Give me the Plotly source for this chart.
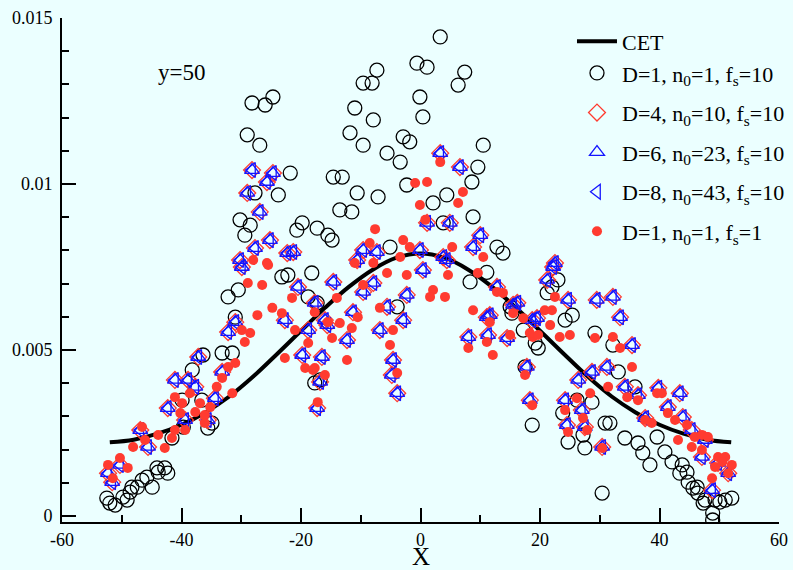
import plotly.graph_objects as go

# ---------------- data ----------------
cet_x = [-52, -48, -44, -40, -36, -32, -28, -24, -20, -16, -12, -8, -4, 0,
         4, 8, 12, 16, 20, 24, 28, 32, 36, 40, 44, 48, 52]
cet_y = [0.00222, 0.00230, 0.00248, 0.00275, 0.00312, 0.00360, 0.00420, 0.00488,
         0.00558, 0.00627, 0.00690, 0.00742, 0.00778, 0.00791,
         0.00778, 0.00742, 0.00690, 0.00627, 0.00558, 0.00488, 0.00420, 0.00360,
         0.00312, 0.00275, 0.00248, 0.00230, 0.00222]

# D=1, n0=1, fs=10 (open circles)
c_x = [-52.5, -51.1, -49.8, -48.6, -47.4, -45.8, -44.9, -44.1, -42.8, -42.3, -49.1, -52.0, -48.3, -46.6, -43.9,
       -41.6, -39.7, -35.6, -34.9, -39.9, -36.6, -38.2, -36.4, -33.2, -31.5, -31.0, -32.2, -30.5, -23.2, -22.2,
       -18.2, -17.7, -18.8,
       -28.2, -26.0, -24.7, -29.0, -26.9, -21.8, -23.8, -27.7, -30.2, -29.4, -28.5, -20.7, -19.8, -17.3, -15.5,
       -14.8, -14.6, -13.1, -10.6, -7.1, -13.5, -11.5, -11.8, -9.6, -7.9, -11.0, -9.6, -8.1, -7.3, -2.9, -1.8,
       -5.6, -3.4, -2.3, -5.1, -0.6, -0.1, 0.4, 3.3, 1.1, 7.4, 6.3, 4.4, 2.1, 10.5, 9.6, 8.6, 8.8, 3.8, 12.8, 13.8,
       21.2, 22.0, 23.0, 24.2, 25.4, 17.5, 19.2, 19.7, 18.7, 23.8, 24.7, 27.5, 27.2, 28.7, 29.2, 32.2, 33.1, 30.9,
       31.7, 34.2, 36.4, 37.2, 38.4, 40.9, 42.1, 43.8, 43.4, 44.8, 45.6, 46.4, 47.6, 49.3, 51.0, 52.1, 30.4, 35.9,
       39.6, 48.9, 48.9, 50.1, 26.2, 44.6, 46.3, 47.3,
       11.1, 15.0, 15.3, -3.9, 8.3, 17.2, -16.8, -17.3]
c_y = [0.00054, 0.00033, 0.00057, 0.00072, 0.00087, 0.00117, 0.00087, 0.00145, 0.00145, 0.00129, 0.00048, 0.00039, 0.00087, 0.00108, 0.00132,
       0.00235, 0.00268, 0.00265, 0.00280, 0.00349, 0.00349, 0.00440, 0.00485, 0.00491, 0.00491, 0.00599, 0.00660, 0.00681, 0.00720, 0.00726,
       0.00732, 0.00401, 0.00660,
       0.01244, 0.01238, 0.01262, 0.01148, 0.01117, 0.01033, 0.00967, 0.00973, 0.00892, 0.00846, 0.00876, 0.00861, 0.00883, 0.00867, 0.00846,
       0.00831, 0.01021, 0.01021, 0.00973, 0.00961, 0.00922, 0.00916, 0.01154, 0.01117, 0.01193, 0.01229, 0.01304, 0.01304, 0.01343, 0.01142, 0.01127,
       0.01093, 0.01066, 0.00997, 0.00810, 0.01364, 0.01262, 0.01202, 0.01443, 0.01352, 0.01337, 0.01298, 0.00967, 0.00943, 0.01117, 0.01051, 0.01006, 0.00901, 0.00883, 0.00810, 0.00792,
       0.00672, 0.00690, 0.00711, 0.00590, 0.00605, 0.00449, 0.00521, 0.00506, 0.00274, 0.00310, 0.00223, 0.00205, 0.00244, 0.00343, 0.00551, 0.00515, 0.00434, 0.00280,
       0.00280, 0.00235, 0.00220, 0.00190, 0.00154, 0.00193, 0.00163, 0.00154, 0.00129, 0.00102, 0.00084, 0.00069, 0.00048, 0.00048, 0.00048, 0.00054, 0.00069, 0.00389,
       0.00238, 0.00009, -0.00012, 0.00042, 0.00349, 0.00132, 0.00087, 0.00039,
       0.00734, 0.00630, 0.00611, 0.00630, 0.00705, 0.00560, 0.00410, 0.00642]

# D=4 / D=6 / D=8 (fs=10) - nearly coincident clusters
t_x = [-52.3, -51.6, -50.3, -46.9, -45.6, -42.3, -41.1, -38.9, -39.4, -37.7, -37.2, -35.6, -33.2, -32.2, -31.0,
       -34.4, -29.9, -20.5, -22.7, -18.8, -19.8, -17.7, -17.3, -16.0,
       -28.2, -24.7, -25.7, -29.0, -26.9, -25.2, -27.7, -30.2, -22.3, -21.3, -9.6, -7.3, -10.6,
       -14.6, -9.6, -7.9, -2.3, 0.4, -5.6, -2.9, -11.3, -6.8, -15.6, -12.3, -16.5, -4.6, -4.8, -3.9, -16.8,
       8.0, 11.3, 11.6, 14.5, 17.8, 18.3, 12.8, 16.2, 19.5, 4.4,
       3.3, 6.6, 1.1, 4.9, 10.0, 8.8, -0.1, 3.8, 22.5,
       22.2, 21.2, 24.7, 29.5, 32.2, 33.4, 11.1, 15.5, 35.4, 18.7, 26.4, 28.7, 31.2, 34.2, 36.4, 24.2, 27.0,
       24.5, 27.5, 30.4, 37.6, 39.8, 43.4, 41.4, 43.9, 45.4, 47.6, 47.1, 49.8, 51.5, 48.8]
t_y = [0.00129, 0.00102, 0.00154, 0.00259, 0.00208, 0.00325, 0.00410, 0.00410, 0.00289, 0.00389, 0.00479, 0.00289, 0.00434, 0.00554, 0.00584,
       0.00355, 0.00750, 0.00690, 0.00590, 0.00560, 0.00485, 0.00642, 0.00325, 0.00590,
       0.01042, 0.01033, 0.01006, 0.00973, 0.00916, 0.00831, 0.00807, 0.00771, 0.00792, 0.00795, 0.00801, 0.00795, 0.00771,
       0.00705, 0.00675, 0.00702, 0.00666, 0.00741, 0.00630, 0.00590, 0.00614, 0.00560, 0.00575, 0.00530, 0.00479, 0.00470, 0.00425, 0.00370, 0.00404,
       0.00539, 0.00545, 0.00605, 0.00536, 0.00449, 0.00349, 0.00690, 0.00642, 0.00596, 0.00771,
       0.01093, 0.01051, 0.00883, 0.00883, 0.00846, 0.00810, 0.00801, 0.00780, 0.00762,
       0.00750, 0.00711, 0.00651, 0.00651, 0.00660, 0.00599, 0.00599, 0.00636, 0.00515, 0.00590, 0.00410, 0.00434, 0.00449, 0.00389, 0.00364, 0.00349, 0.00319,
       0.00274, 0.00268, 0.00208, 0.00295, 0.00386, 0.00370, 0.00328, 0.00298, 0.00259, 0.00229, 0.00178, 0.00160, 0.00129, 0.00078]

# D=1, n0=1, fs=1 (filled red dots)
r_x = [-52.3, -51.5, -50.3, -49.0, -48.1, -46.1, -43.9, -42.8, -41.6, -46.6, -41.1, -39.9, -40.2, -38.6, -37.7,
       -36.9, -36.1, -35.2, -34.1, -33.2, -32.2, -31.0, -31.5, -29.9, -28.5, -29.4, -27.3, -39.4, -36.1, -41.1,
       -28.9, -26.5, -25.5, -24.8, -23.2, -21.0, -22.7, -19.3, -17.7, -18.8, -21.5, -17.2, -17.7, -28.0, -25.7,
       -7.6, -8.5, -0.9, -2.9, -1.8, -11.0, -7.9, -3.4, -5.6, -2.3, 4.6, -14.0, -15.5, -13.5, -11.5, -14.8, -12.3,
       -9.6, -10.5, -6.8, -4.6, -5.1, -3.9, 2.1, 4.1, 1.6, 8.8, 11.6, 11.1, 8.0, 12.1, 9.6, 12.8, 13.8, 15.5, 17.2,
       15.0, 18.8, 17.5, 18.7, -16.0, -18.0, 1.1, 3.3, 7.1, 6.3, -0.1, 0.8, 5.3, 10.5,
       22.5, 20.8, 22.0, 21.7, 18.3, 19.7, 23.3, 25.0, 29.2, 32.2, 33.4, 35.4, 31.4, 34.6, 36.4, 28.4, 26.2, 24.2,
       27.2, 24.7, 27.9, 30.4, 39.6, 40.4, 41.4, 42.6, 37.6, 38.7, 44.6, 43.1, 45.9, 47.1, 48.1, 45.4, 47.1, 49.8,
       51.0, 49.3, 52.1, 51.5, 48.8, 50.5]
r_y = [0.00154, 0.00114, 0.00175, 0.00145, 0.00208, 0.00229, 0.00244, 0.00205, 0.00235, 0.00268, 0.00358, 0.00340, 0.00310, 0.00370, 0.00313,
       0.00340, 0.00304, 0.00328, 0.00389, 0.00416, 0.00449, 0.00461, 0.00370, 0.00560, 0.00551, 0.00524, 0.00605, 0.00259, 0.00280, 0.00259,
       0.00702, 0.00696, 0.00756, 0.00627, 0.00611, 0.00560, 0.00476, 0.00446, 0.00446, 0.00521, 0.00657, 0.00343, 0.00614, 0.00771, 0.00762,
       0.00864, 0.00822, 0.01003, 0.00831, 0.00810, 0.00762, 0.00762, 0.00780, 0.00732, 0.00726, 0.00726, 0.00657, 0.00584, 0.00581, 0.00566, 0.00536, 0.00470,
       0.00696, 0.00599, 0.00627, 0.00560, 0.00515, 0.00431, 0.00681, 0.00660, 0.00660, 0.00620, 0.00584, 0.00524, 0.00506, 0.00485, 0.00732, 0.00675, 0.00672, 0.00611, 0.00596,
       0.00545, 0.00539, 0.00425, 0.00334, 0.00425, 0.00440, 0.01006, 0.01066, 0.00976, 0.00943, 0.00937, 0.00892, 0.00810, 0.00780,
       0.00660, 0.00620, 0.00620, 0.00575, 0.00551, 0.00545, 0.00539, 0.00545, 0.00536, 0.00539, 0.00506, 0.00449, 0.00389, 0.00358, 0.00349, 0.00370, 0.00355, 0.00319,
       0.00295, 0.00253, 0.00259, 0.00205, 0.00370, 0.00370, 0.00310, 0.00289, 0.00289, 0.00280, 0.00274, 0.00229, 0.00238, 0.00244, 0.00238, 0.00208, 0.00199, 0.00178,
       0.00178, 0.00148, 0.00154, 0.00129, 0.00114, 0.00163]

x_ticks = [-60, -40, -20, 0, 20, 40, 60]
x_ticktext = ["-60", "-40", "-20", "0", "20", "40", "60"]
y_ticks = [0, 0.005, 0.01, 0.015]
y_ticktext = ["0", "0.005", "0.01", "0.015"]

names = ["CET",
         "D=1, n<sub>0</sub>=1, f<sub>s</sub>=10",
         "D=4, n<sub>0</sub>=10, f<sub>s</sub>=10",
         "D=6, n<sub>0</sub>=23, f<sub>s</sub>=10",
         "D=8, n<sub>0</sub>=43, f<sub>s</sub>=10",
         "D=1, n<sub>0</sub>=1, f<sub>s</sub>=1"]

FONT = "Liberation Serif, Times New Roman, serif"
BG = "#ebffff"
RED = "#ff3b30"
BLUE = "#1414ff"

fig = go.Figure()
fig.add_trace(go.Scatter(x=cet_x, y=cet_y, mode="lines", name=names[0], legendgroup="a",
                         line=dict(color="black", width=4, shape="spline")))
fig.add_trace(go.Scatter(x=c_x, y=c_y, mode="markers", name=names[1], legendgroup="a",
                         marker=dict(symbol="circle-open", size=14, color="black", line=dict(width=1.3))))
fig.add_trace(go.Scatter(x=t_x, y=t_y, mode="markers", name=names[2], legendgroup="c",
                         marker=dict(symbol="diamond-open", size=13, color=RED, line=dict(width=1.3))))
fig.add_trace(go.Scatter(x=t_x, y=t_y, mode="markers", name=names[3], legendgroup="d",
                         marker=dict(symbol="triangle-up-open", size=13, color=BLUE, line=dict(width=1.3))))
fig.add_trace(go.Scatter(x=t_x, y=t_y, mode="markers", name=names[4], legendgroup="e",
                         marker=dict(symbol="triangle-left-open", size=13, color=BLUE, line=dict(width=1.3))))
fig.add_trace(go.Scatter(x=r_x, y=r_y, mode="markers", name=names[5], legendgroup="f",
                         marker=dict(symbol="circle", size=10, color=RED)))

axis_common = dict(showline=True, linecolor="black", linewidth=2, showgrid=False, zeroline=False,
                   ticks="inside", ticklen=14, tickwidth=2, tickcolor="black", automargin=False,
                   tickfont=dict(family=FONT, size=18, color="black"))

fig.update_xaxes(range=[-60, 60], tickvals=x_ticks, ticktext=x_ticktext,
                 minor=dict(ticks="inside", ticklen=7, tickwidth=2, tickcolor="black",
                            tickvals=[-50, -30, -10, 10, 30, 50], showgrid=False),
                 **axis_common)
fig.update_yaxes(range=[-0.00018, 0.015], tickvals=y_ticks, ticktext=y_ticktext,
                 minor=dict(ticks="inside", ticklen=7, tickwidth=2, tickcolor="black",
                            dtick=0.001, tick0=0, showgrid=False),
                 ticklabelstandoff=4,
                 **axis_common)

# axis title "X" and the in-plot label
fig.add_annotation(x=0.5, y=-0.069, xref="paper", yref="paper", text="X", showarrow=False,
                   yanchor="middle", font=dict(family=FONT, size=25, color="black"))
fig.add_annotation(x=-44.3, y=0.01335, text="y=50", showarrow=False, xanchor="left",
                   font=dict(family=FONT, size=23, color="black"))

fig.update_layout(
    width=793, height=570,
    margin=dict(l=62, r=14, t=18, b=48, autoexpand=False),
    paper_bgcolor=BG, plot_bgcolor=BG,
    font=dict(family=FONT, color="black"),
    legend=dict(xref="container", yref="container", x=0.7213, y=0.964,
                xanchor="left", yanchor="top", bgcolor="rgba(0,0,0,0)",
                font=dict(family=FONT, size=22, color="black"), tracegroupgap=8, itemwidth=40),
)

fig.write_html("out.html", config={"displayModeBar": False},
               post_script="document.body.style.margin='0px';document.body.style.background='#ebffff';")
